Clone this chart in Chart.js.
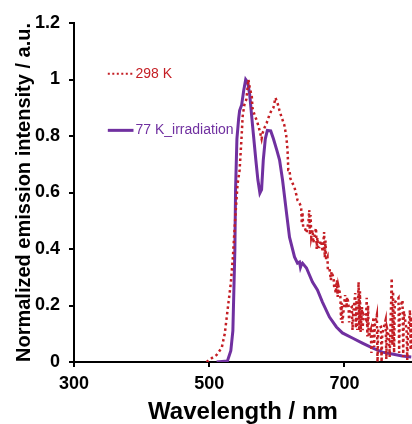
<!DOCTYPE html>
<html>
<head>
<meta charset="utf-8">
<script src="https://cdn.jsdelivr.net/npm/chart.js@4.4.0/dist/chart.umd.min.js"></script>
<style>
  html, body { margin: 0; padding: 0; background: #fff; }
  #wrap { width: 412px; height: 424px; position: relative; }
</style>
</head>
<body>
<div id="wrap"><canvas id="emissionChart"></canvas></div>
<script>
// 298 K spectrum (dotted red)
const wl298 = [496, 504, 511, 518.5, 523, 527, 532, 535, 538, 540.5, 542, 545, 548, 549.5, 552, 555, 558, 560, 563, 564, 567, 570, 573, 574.5, 577.5, 579, 582, 585, 589, 592, 595, 598, 601, 604, 607, 611, 614, 615.9, 617, 618.8, 620, 623, 626, 629, 630.6,
  634, 636, 637, 638, 639, 641, 643.9, 645, 647, 648, 649, 650, 651, 653, 654, 656, 658, 659, 660, 661, 663, 665, 668, 670, 671, 672, 673, 675, 675.5,
  678, 680, 681, 684, 685, 686, 687, 689, 690, 691, 694, 695, 696, 697, 701, 703, 704, 706, 707, 708, 711, 712, 713, 716, 717, 718, 719, 721, 722, 723, 724,
  726, 727, 728, 732, 733, 734, 735, 736, 739, 740, 741, 743, 744, 745, 748, 749, 750, 754, 755, 756, 761, 762, 763, 766, 767, 770, 771, 772, 773.5, 774.5,
  780, 781, 782, 786, 787, 788, 792, 793, 794, 797, 798, 799, 800];
const int298 = [0, 0.014, 0.025, 0.05, 0.10, 0.18, 0.28, 0.37, 0.49, 0.58, 0.63, 0.68, 0.80, 0.87, 0.91, 0.93, 1.0, 0.97, 0.94, 0.90, 0.875, 0.857, 0.835, 0.82, 0.79, 0.81, 0.83, 0.846, 0.874, 0.89, 0.90, 0.935, 0.917, 0.89, 0.867, 0.84, 0.80, 0.75, 0.68, 0.68, 0.65, 0.634, 0.62, 0.591, 0.573,
  0.56, 0.549, 0.49, 0.53, 0.478, 0.478, 0.457, 0.47, 0.50, 0.538, 0.45, 0.52, 0.442, 0.467, 0.421, 0.45, 0.474, 0.40, 0.44, 0.407, 0.407, 0.43, 0.39, 0.46, 0.37, 0.43, 0.361, 0.372, 0.326,
  0.33, 0.29, 0.32, 0.297, 0.26, 0.28, 0.244, 0.29, 0.23, 0.27, 0.237, 0.15, 0.21, 0.138, 0.237, 0.191, 0.23, 0.209, 0.14, 0.19, 0.195, 0.113, 0.17, 0.244, 0.12, 0.22, 0.113, 0.283, 0.11, 0.25, 0.106,
  0.195, 0.113, 0.17, 0.15, 0.227, 0.09, 0.20, 0.088, 0.113, 0.032, 0.09, 0.159, 0.053, 0.13, 0.166, 0.0, 0.12, 0.124, 0.0, 0.10, 0.149, 0.01, 0.12, 0.088, 0.018, 0.297, 0.06, 0.25, 0.032, 0.21,
  0.227, 0.032, 0.19, 0.219, 0.018, 0.18, 0.113, 0.007, 0.09, 0.184, 0.042, 0.16, 0.05];

// 77 K after irradiation (solid purple)
const wl77 = [511, 527, 532, 535, 538, 539, 541, 543.5, 545, 548, 551, 554, 557, 560, 564, 569, 572, 575, 577.5, 580, 583, 586, 591, 595, 600, 604.1, 608.5, 614.4, 618.8, 626.2, 630.6, 633.6, 635, 636.5, 638, 643.9, 648.3, 652.8, 660.1, 667.5, 677.9, 688.2, 697, 711.8, 726.6, 741.3, 756.1, 770.8, 785.6, 798.9];
const int77 = [0, 0.004, 0.04, 0.11, 0.40, 0.61, 0.79, 0.86, 0.89, 0.91, 0.96, 1.0, 0.99, 0.945, 0.84, 0.715, 0.645, 0.598, 0.61, 0.715, 0.79, 0.82, 0.818, 0.79, 0.75, 0.715, 0.644, 0.527, 0.442, 0.372, 0.35, 0.354, 0.335, 0.345, 0.35, 0.333, 0.308, 0.283, 0.255, 0.212, 0.159, 0.124, 0.103, 0.085, 0.067, 0.05, 0.035, 0.028, 0.021, 0.018];

const xTicks = [300, 500, 700];
const seriesNames = ['298 K', '77 K_irradiation'];
const RED = '#C41E24';
const PURPLE = '#7030A0';
const FONT = "'Liberation Sans', Arial, sans-serif";

const toPoints = (xs, ys) => xs.map((x, i) => ({ x, y: ys[i] }));

// legend drawn inside the plot area, text coloured like its series
const innerLegend = {
  id: 'innerLegend',
  afterDatasetsDraw(chart) {
    const { ctx, scales: { x, y } } = chart;
    const rows = [
      { name: seriesNames[0], color: RED, dash: [2, 2.5], width: 2, at: 1.02 },
      { name: seriesNames[1], color: PURPLE, dash: [], width: 3, at: 0.82 }
    ];
    ctx.save();
    ctx.font = '14px ' + FONT;
    ctx.textBaseline = 'middle';
    rows.forEach(r => {
      const py = y.getPixelForValue(r.at);
      ctx.strokeStyle = r.color;
      ctx.lineWidth = r.width;
      ctx.setLineDash(r.dash);
      ctx.beginPath();
      ctx.moveTo(x.getPixelForValue(350), py);
      ctx.lineTo(x.getPixelForValue(388), py);
      ctx.stroke();
      ctx.fillStyle = r.color;
      ctx.fillText(r.name, x.getPixelForValue(391), py);
    });
    ctx.restore();
  }
};

const ctx = document.getElementById('emissionChart').getContext('2d');
new Chart(ctx, {
  type: 'line',
  data: {
    datasets: [
      {
        label: seriesNames[0],
        data: toPoints(wl298, int298),
        borderColor: RED,
        borderWidth: 2.5,
        borderDash: [2.5, 3],
        pointRadius: 0,
        tension: 0
      },
      {
        label: seriesNames[1],
        data: toPoints(wl77, int77),
        borderColor: PURPLE,
        borderWidth: 3,
        pointRadius: 0,
        tension: 0
      }
    ]
  },
  options: {
    responsive: true,
    maintainAspectRatio: false,
    animation: false,
    layout: { padding: { top: 23, right: 0, left: 0, bottom: 0 } },
    plugins: {
      legend: { display: false },
      tooltip: { enabled: false }
    },
    scales: {
      x: {
        type: 'linear',
        min: 300,
        max: 800,
        afterBuildTicks: scale => { scale.ticks = xTicks.map(v => ({ value: v })); },
        afterFit: scale => { scale.height = 62; },
        border: { color: '#000', width: 2 },
        grid: { drawOnChartArea: false, drawTicks: true, tickLength: 5, color: '#000', lineWidth: 2 },
        ticks: { color: '#000', padding: 6, maxRotation: 0, font: { family: FONT, size: 18, weight: 'bold' } },
        title: {
          display: true,
          text: 'Wavelength / nm',
          color: '#000',
          padding: { top: 0, bottom: -3 },
          font: { family: FONT, size: 24, weight: 'bold' }
        }
      },
      y: {
        min: 0,
        max: 1.2,
        afterFit: scale => { scale.width = 74; },
        border: { color: '#000', width: 2 },
        grid: { drawOnChartArea: false, drawTicks: true, tickLength: 5, color: '#000', lineWidth: 2 },
        ticks: {
          stepSize: 0.2,
          color: '#000',
          padding: 9,
          font: { family: FONT, size: 18, weight: 'bold' },
          callback: v => String(Math.round(v * 10) / 10)
        },
        title: {
          display: true,
          text: 'Normalized emission intensity / a.u.',
          color: '#000',
          padding: { top: 12, bottom: 0 },
          font: { family: FONT, size: 20, weight: 'bold' }
        }
      }
    }
  },
  plugins: [innerLegend]
});
</script>
</body>
</html>
